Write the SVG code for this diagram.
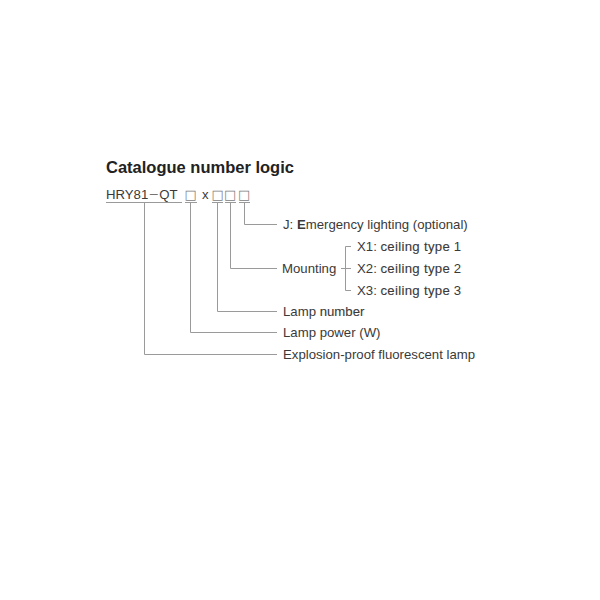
<svg xmlns="http://www.w3.org/2000/svg" width="600" height="600" viewBox="0 0 600 600">
<style>
.t{font-family:"Liberation Sans",Arial,sans-serif;font-size:13.2px;fill:#3a3a3a}
.m{stroke:#3a3a3a;stroke-width:0.12}
.ttl{font-family:"Liberation Sans",Arial,sans-serif;font-size:16.5px;font-weight:bold;fill:#222}
.box{font-family:"DejaVu Sans",sans-serif;font-size:13px;fill:#808080}
.c{fill:none;stroke:#9a9a9a;stroke-width:1}
</style>
<rect width="600" height="600" fill="#fff"/>
<g id="title"><text class="ttl" x="106" y="173">Catalogue number logic</text></g>
<g id="code">
<text class="t" x="106" y="198.5">HRY81<tspan font-family="'Noto Sans CJK SC',sans-serif" font-size="11" fill="#555">－</tspan>QT</text>
<text class="box" x="184.5" y="198.5">□</text>
<text class="t" x="202" y="198.5">x</text>
<text class="box" x="211.5" y="198.5">□</text>
<text class="box" x="224" y="198.5">□</text>
<text class="box" x="238" y="198.5">□</text>
</g>
<g id="connectors">
<path class="c" d="M106 202.5H182M144.5 202.5V354.5H277"/>
<path class="c" d="M185 202.5H197M190.5 202.5V332.5H277"/>
<path class="c" d="M212 202.5H223M217.5 202.5V311.5H277"/>
<path class="c" d="M225 202.5H236M230.5 202.5V268.5H277"/>
<path class="c" d="M239 202.5H250M244.5 202.5V224.5H277"/>
<path class="c" d="M351 246.5H345.5V290.5H351M341 268.5H351"/>
</g>
<g id="n-j"><text class="t" x="283" y="228.5">J: <tspan font-weight="bold">E</tspan>mergency lighting (optional)</text></g>
<g id="n-mounting"><text class="t" x="282" y="272.5">Mounting</text></g>
<g id="n-x1"><text class="t" x="357" y="250.5">X1: <tspan class="m" letter-spacing="0.3">ceiling type</tspan> 1</text></g>
<g id="n-x2"><text class="t" x="357" y="272.5">X2: <tspan class="m" letter-spacing="0.3">ceiling type</tspan> 2</text></g>
<g id="n-x3"><text class="t" x="357" y="294.5">X3: <tspan class="m" letter-spacing="0.3">ceiling type</tspan> 3</text></g>
<g id="n-lampnum"><text class="t" x="283" y="315.5">Lamp <tspan class="m">number</tspan></text></g>
<g id="n-lamppow"><text class="t" x="283" y="336.5">Lamp power (W)</text></g>
<g id="n-expl"><text class="t" x="283" y="358.5">Explosion-proof fluorescent lamp</text></g>
</svg>
